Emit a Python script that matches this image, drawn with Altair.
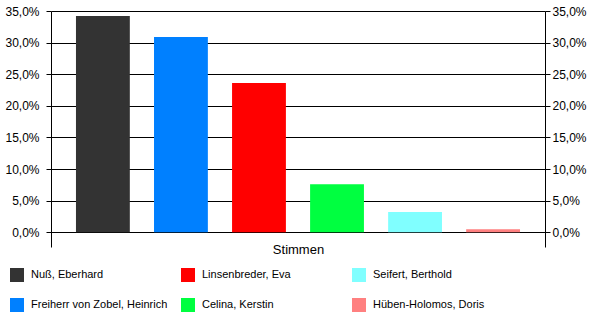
import altair as alt
import pandas as pd

# --- data -------------------------------------------------------------
candidates = ["Nuß, Eberhard", "Freiherr von Zobel, Heinrich", "Linsenbreder, Eva",
              "Celina, Kerstin", "Seifert, Berthold", "Hüben-Holomos, Doris"]
shares = [0.342, 0.309, 0.236, 0.076, 0.032, 0.005]
bar_colors = ["#333333", "#0080ff", "#ff0000", "#00ff40", "#80ffff", "#ff8080"]
y_ticks = [0.0, 0.05, 0.10, 0.15, 0.20, 0.25, 0.30, 0.35]
x_title = "Stimmen"

df = pd.DataFrame({"Kandidat": candidates, "Anteil": shares})

FONT = "Liberation Sans, Arial, sans-serif"
LABEL_EXPR = "replace(format(datum.value, '.1%'), '.', ',')"

y_domain = [-0.0232, 0.35]

x_enc = alt.X(
    "Kandidat:N",
    sort=candidates,
    scale=alt.Scale(paddingInner=0.31, paddingOuter=0.32),
    axis=alt.Axis(title=x_title, labels=False, ticks=False, domain=False,
                  titleFont=FONT, titleFontSize=13, titleFontWeight="normal",
                  titleColor="black", titleBaseline="alphabetic", titleY=6.6),
)

color_enc = alt.Color(
    "Kandidat:N",
    scale=alt.Scale(domain=candidates, range=bar_colors),
    legend=alt.Legend(title=None, orient="none", legendX=-41, legendY=257,
                      columns=3, gridAlign="all", columnPadding=13, rowPadding=16,
                      symbolType="square", symbolSize=196, symbolStrokeWidth=0,
                      symbolOpacity=1, labelFont=FONT, labelFontSize=11,
                      labelColor="black", labelOffset=7, labelLimit=300, padding=0),
)

left = alt.Chart(df).mark_bar().encode(
    x=x_enc,
    y=alt.Y("Anteil:Q",
            scale=alt.Scale(domain=y_domain, nice=False, zero=False),
            axis=alt.Axis(title=None, values=y_ticks, labelExpr=LABEL_EXPR,
                          orient="left", grid=True, gridColor="black", gridOpacity=1,
                          domainColor="black", tickColor="black", tickSize=5,
                          labelPadding=7, labelFont=FONT, labelFontSize=12,
                          labelColor="black")),
    y2=alt.datum(0),
    color=color_enc,
)

right = alt.Chart(df).mark_bar(opacity=0).encode(
    x=x_enc,
    y=alt.Y("Anteil:Q",
            scale=alt.Scale(domain=y_domain, nice=False, zero=False),
            axis=alt.Axis(title=None, values=y_ticks, labelExpr=LABEL_EXPR,
                          orient="right", grid=False,
                          domainColor="black", tickColor="black", tickSize=5,
                          labelPadding=2, labelFont=FONT, labelFontSize=12,
                          labelColor="black")),
    y2=alt.datum(0),
)

chart = alt.layer(left, right).resolve_scale(y="independent").properties(
    width=494, height=236,
    autosize=alt.AutoSizeParams(type="none"),
    padding={"left": 51, "top": 11, "right": 55, "bottom": 79},
    background="white",
).configure_view(stroke=None)

chart.save("out.html", embed_options={"renderer": "svg", "actions": False})
